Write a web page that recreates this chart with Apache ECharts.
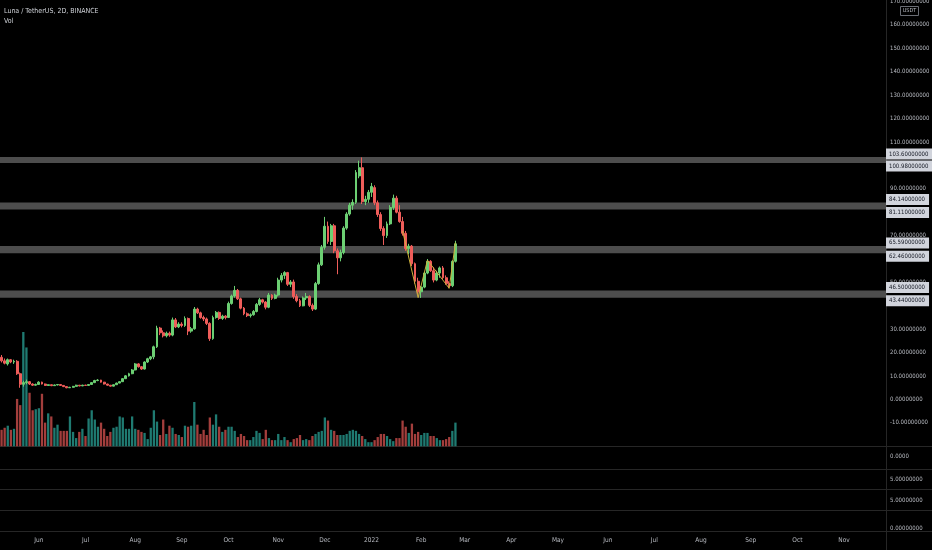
<!DOCTYPE html>
<html><head><meta charset="utf-8">
<script src="https://cdn.jsdelivr.net/npm/echarts@6/dist/echarts.min.js"></script>
<style>html,body{margin:0;padding:0;background:#000;}#c{width:932px;height:550px;}</style>
</head><body><div id="c"></div>
<script>
// ---------- data ----------
const titleText = 'Luna / TetherUS, 2D, BINANCE';
const volLabel = 'Vol';
const currencyLabel = 'USDT';
const startDate = '2021-05-08';
const stepDays = 2;
const categoryCount = 285;
const monthNames = ['Jan','Feb','Mar','Apr','May','Jun','Jul','Aug','Sep','Oct','Nov','Dec'];
// [open, close, low, high]
const candles = [
[18,16.5,15.8,19],[16.5,15.5,15,17.5],[15.2,17,14.5,17.5],[17,16,15.5,17.3],[16,16.3,15.2,17],
[16.3,11,10.5,16.8],[11,6.5,5,11.5],[6.5,7.2,5.5,8],[7.2,7.6,6.5,8.5],[7.6,6.6,6.2,7.9],
[6.6,6.1,5.8,6.9],[6.1,6.4,5.9,6.8],[6.4,7.4,6.2,7.8],[7.4,6.6,6.4,7.6],[6.6,6.0,5.8,6.8],
[6.0,6.3,5.8,6.5],[6.3,5.9,5.7,6.4],[5.9,6.2,5.8,6.4],[6.2,6.4,6.0,6.6],[6.4,6.0,5.9,6.5],
[6.0,5.5,5.3,6.1],[5.5,5.0,4.8,5.6],[5.0,5.2,4.9,5.4],[5.2,5.6,5.1,5.8],[5.6,6.1,5.5,6.3],
[6.1,5.8,5.6,6.2],[5.8,6.1,5.7,6.3],[6.1,6.0,5.8,6.3],[6.0,6.4,5.9,6.6],[6.4,7.2,6.3,7.4],
[7.2,8.1,7.0,8.4],[8.1,8.3,7.8,8.7],[8.3,7.4,7.2,8.4],[7.4,6.6,6.4,7.5],[6.6,6.1,5.9,6.7],
[6.1,5.7,5.5,6.2],[5.7,6.3,5.6,6.4],[6.3,7.0,6.2,7.2],[7.0,7.6,6.9,7.8],[7.6,8.9,7.5,9.1],
[8.9,10.1,8.7,10.4],[10.1,11.0,9.8,11.4],[11.0,12.6,10.8,13.0],[12.6,15.2,12.4,15.6],[15.2,14.0,13.6,15.5],
[14.0,13.0,12.6,14.3],[13.0,16.0,12.8,16.3],[16.0,17.4,15.6,17.8],[17.4,18.2,16.8,18.6],[18.2,22.5,17.2,23.0],
[22.5,30.5,22.0,31.5],[30.5,28.5,27.5,31.0],[28.5,27.2,26.5,29.5],[27.2,28.3,26.5,29.0],[28.3,27.5,26.8,29.0],
[27.5,34.0,27.0,35.0],[34.0,31.0,30.5,34.8],[31.0,32.2,30.5,33.0],[32.2,31.6,30.8,33.0],[31.6,34.6,31.0,35.5],
[34.6,29.2,27.5,35.0],[29.2,30.2,28.5,31.0],[30.2,38.6,29.8,39.5],[38.6,37.0,36.5,39.2],[37.0,35.0,34.5,37.5],
[35.0,34.4,33.5,35.8],[34.4,32.5,31.8,35.0],[32.5,26.0,25.0,33.0],[26.0,35.0,25.5,35.8],[35.0,37.2,34.5,37.8],
[37.2,34.6,34.0,37.6],[34.6,35.6,34.0,36.2],[35.6,35.0,34.2,36.0],[35.0,41.0,34.8,41.8],[41.0,44.2,40.5,44.8],
[44.2,46.6,43.5,48.5],[46.6,43.0,42.5,47.2],[43.0,39.0,38.5,43.5],[39.0,36.6,36.0,39.5],[36.6,35.8,35.2,37.2],
[35.8,36.2,35.0,36.8],[36.2,37.6,35.8,38.2],[37.6,40.6,37.2,41.2],[40.6,42.6,40.0,43.4],[42.6,41.6,41.0,43.0],
[41.6,39.4,38.5,42.0],[39.4,44.6,39.0,45.5],[44.6,43.2,42.5,45.0],[43.2,44.6,42.8,45.2],[44.6,51.0,44.0,52.0],
[51.0,53.0,50.0,54.0],[53.0,54.2,51.5,54.8],[54.2,49.2,48.5,54.5],[49.2,50.2,48.0,51.0],[50.2,44.0,43.0,51.2],
[44.0,42.2,41.5,45.0],[42.2,40.0,39.5,43.0],[40.0,43.4,39.8,44.0],[43.4,44.0,42.5,45.5],[44.0,40.2,39.5,44.5],
[40.2,38.6,37.8,41.0],[38.6,49.5,38.2,50.2],[49.5,57.5,49.0,58.5],[57.5,65.0,57.0,66.0],[65.0,74.0,64.0,78.0],
[74.0,67.5,66.5,76.0],[67.5,74.2,66.0,75.0],[74.2,63.5,62.5,75.0],[63.5,60.5,53.5,64.5],[60.5,62.8,59.0,64.0],
[62.8,73.2,62.0,74.0],[73.2,79.2,72.5,80.0],[79.2,83.0,78.5,84.0],[83.0,84.2,81.0,85.5],[84.2,97.0,83.5,98.0],
[95.5,99.0,94.5,102.0],[99.0,84.5,83.5,103.4],[84.5,85.5,83.0,87.0],[85.5,88.5,84.0,89.5],[88.5,91.0,86.5,92.5],
[90.5,84.0,83.0,91.5],[84.0,79.0,78.0,85.0],[79.0,73.0,72.0,80.0],[73.0,70.0,66.0,74.0],[70.0,75.0,69.0,76.0],
[75.0,82.0,74.5,83.0],[82.0,86.0,81.0,87.5],[86.0,80.0,79.5,87.0],[80.0,76.0,75.5,83.0],[76.0,71.0,70.0,78.0],
[71.0,64.5,63.5,72.0],[64.5,65.5,62.0,66.5],[65.5,58.0,57.0,66.0],[58.0,50.5,49.5,58.5],[50.5,46.0,45.0,52.0],
[46.0,48.0,43.4,48.5],[48.0,54.0,47.5,54.5],[54.0,59.0,53.5,60.0],[59.0,55.0,54.5,59.5],[55.0,51.0,50.0,56.5],
[51.0,54.0,50.5,55.0],[54.0,56.2,52.0,56.8],[56.2,52.0,51.5,57.0],[52.0,49.5,49.0,53.0],[49.5,48.6,47.5,50.5],
[48.6,59.0,48.0,59.5],[59.0,66.5,58.5,67.8]
];
const volume = [
16,18,20,16,17,46,40,111,96,52,
35,36,37,51,23,32,29,18,21,15,
15,15,29,14,8,14,17,10,27,35,
26,19,23,17,10,14,18,19,29,28,
17,17,29,17,16,14,13,7,18,35,
24,11,26,12,20,18,12,11,9,20,
19,20,43,21,12,16,11,28,21,31,
19,14,16,19,19,15,
9,12,10,6,6,9,15,13,7,16,8,6,6,12,6,9,6,4,7,8,11,6,7,6,
10,12,14,15,28,25,16,15,
11,11,11,12,15,16,15,12,10,7,
4,4,6,9,12,12,10,7,5,8,
8,25,19,13,22,12,14,11,13,13,
10,10,8,6,6,7,9,15,23
];
const bands = [[100.98,103.60],[81.11,84.14],[62.46,65.59],[43.44,46.50]];
const hiddenPriceTicks = [100,80,60,40,-20];
const zigzag = [[129,72],[134,43.5],[137,59.5],[144,47.5],[146,67]];
const paneLabels = ['0.0000','5.00000000','5.00000000','0.00000000'];

// ---------- build ----------
const categories = [];
(function(){
  const t0 = Date.UTC(+startDate.slice(0,4), +startDate.slice(5,7)-1, +startDate.slice(8,10));
  for (let i = 0; i < categoryCount; i++) {
    const d = new Date(t0 + i*stepDays*86400000);
    categories.push(d.toISOString().slice(0,10));
  }
})();
const monthOf = s => s.slice(0,7);
const isMonthStart = (idx) => idx > 0 && monthOf(categories[idx]) !== monthOf(categories[idx-1]);

const UP = '#6ccf73', DOWN = '#ef5d5a';
const VUP = '#1f7a71', VDOWN = '#a33e3c';
const FONT = "'Liberation Sans Narrow','DejaVu Sans Condensed','Liberation Sans',sans-serif";
const TXT = '#b8bbc2';
const LINE = '#262626';

const bandMarkLines = [];
bands.forEach(b => {
  bandMarkLines.push({yAxis: b[1], label:{offset:[0,-3]}});
  bandMarkLines.push({yAxis: b[0], label:{offset:[0,3]}});
});

const chart = echarts.init(document.getElementById('c'), null, {renderer:'canvas'});
const GRID_RIGHT = 46;
const paneLineYs = [446.5, 469.5, 489.5, 510.5, 531.5];
const paneLabelYs = [456, 479, 500, 528];

const graphics = [];
paneLineYs.forEach(y => graphics.push({type:'line', shape:{x1:0,y1:y,x2:932,y2:y}, style:{stroke:LINE,lineWidth:1}, silent:true}));
graphics.push({type:'line', shape:{x1:886.5,y1:0,x2:886.5,y2:550}, style:{stroke:LINE,lineWidth:1}, silent:true});
paneLabels.forEach((t,i) => graphics.push({type:'text', x:890, y:paneLabelYs[i], style:{text:t, fill:TXT, font:'6px '+FONT, textVerticalAlign:'middle'}, silent:true}));
graphics.push({type:'text', x:4, y:11, style:{text:titleText, fill:'#cfd2d8', font:'7px '+FONT, textVerticalAlign:'middle'}});
graphics.push({type:'text', x:4, y:21, style:{text:volLabel, fill:'#cfd2d8', font:'7px '+FONT, textVerticalAlign:'middle'}});
graphics.push({type:'rect', shape:{x:900.5,y:6.5,width:18,height:9}, style:{fill:'#000',stroke:'#6a6d74',lineWidth:1}, z:10});
graphics.push({type:'text', x:909.5, y:11, style:{text:currencyLabel, fill:TXT, font:'5.5px '+FONT, textAlign:'center', textVerticalAlign:'middle'}, z:11});

chart.setOption({
  backgroundColor:'#000000',
  animation:false,
  textStyle:{fontFamily:FONT},
  grid:[
    {left:0, right:GRID_RIGHT, top:1.5, height:444.8, outerBoundsMode:'none', containLabel:false},
    {left:0, right:GRID_RIGHT, top:510.5, height:21, outerBoundsMode:'none', containLabel:false}
  ],
  xAxis:[
    {type:'category', gridIndex:0, data:categories, boundaryGap:true,
     axisLine:{show:false}, axisTick:{show:false}, axisLabel:{show:false}, splitLine:{show:false}},
    {type:'category', gridIndex:1, data:categories, boundaryGap:true,
     axisLine:{show:false}, axisTick:{show:false}, splitLine:{show:false},
     axisLabel:{show:true, color:TXT, fontSize:6.5, fontFamily:FONT, margin:5,
       interval:(idx)=>isMonthStart(idx) || idx===12,
       formatter:(v)=>{const m=+v.slice(5,7); return m===1 ? v.slice(0,4) : monthNames[m-1];}}}
  ],
  yAxis:[
    {type:'value', gridIndex:0, position:'right', min:-20, max:170, interval:10,
     splitLine:{show:false}, axisLine:{show:false}, axisTick:{show:false},
     axisLabel:{color:TXT, fontSize:6, fontFamily:FONT, margin:4, align:'left',
       formatter:(v)=> hiddenPriceTicks.indexOf(Math.round(v))>=0 ? '' : v.toFixed(8)}},
    {type:'value', gridIndex:0, min:0, max:432, show:false},
    {type:'value', gridIndex:1, show:false}
  ],
  graphic:graphics,
  series:[
    {type:'bar', name:'Vol', xAxisIndex:0, yAxisIndex:1, barWidth:2.3, z:1,
     data: volume.map((v,i)=>({value:v, itemStyle:{color: candles[i][1]>=candles[i][0] ? VUP : VDOWN}}))},
    {type:'candlestick', xAxisIndex:0, yAxisIndex:0, barWidth:2.4, z:3,
     data: candles,
     itemStyle:{color:UP, color0:DOWN, borderColor:UP, borderColor0:DOWN, borderWidth:1},
     markArea:{silent:true, itemStyle:{color:'rgba(125,125,125,0.62)'}, label:{show:false},
       data: bands.map(b=>[{yAxis:b[0]},{yAxis:b[1]}])}
    },
    {type:'line', name:'levels', xAxisIndex:0, yAxisIndex:0, data:[], clip:false, z:6,
     markLine:{silent:true, symbol:['none','none'], lineStyle:{color:'rgba(0,0,0,0)', width:1},
       label:{show:true, position:'end', distance:0, formatter:(p)=>Number(p.value).toFixed(8),
         color:'#131722', backgroundColor:'#d1d4dc', fontSize:6, fontFamily:FONT,
         padding:[2,4,2,3], lineHeight:7},
       data: bandMarkLines}
    },
    {type:'line', xAxisIndex:0, yAxisIndex:0, z:4, symbol:'none', showSymbol:true,
     lineStyle:{color:'#cdb13c', width:1}, itemStyle:{color:'#cdb13c'},
     data: zigzag.map((p,i)=> i===zigzag.length-1 ? {value:p, symbol:'arrow', symbolSize:[5,6]} : {value:p})}
  ]
});
</script></body></html>
